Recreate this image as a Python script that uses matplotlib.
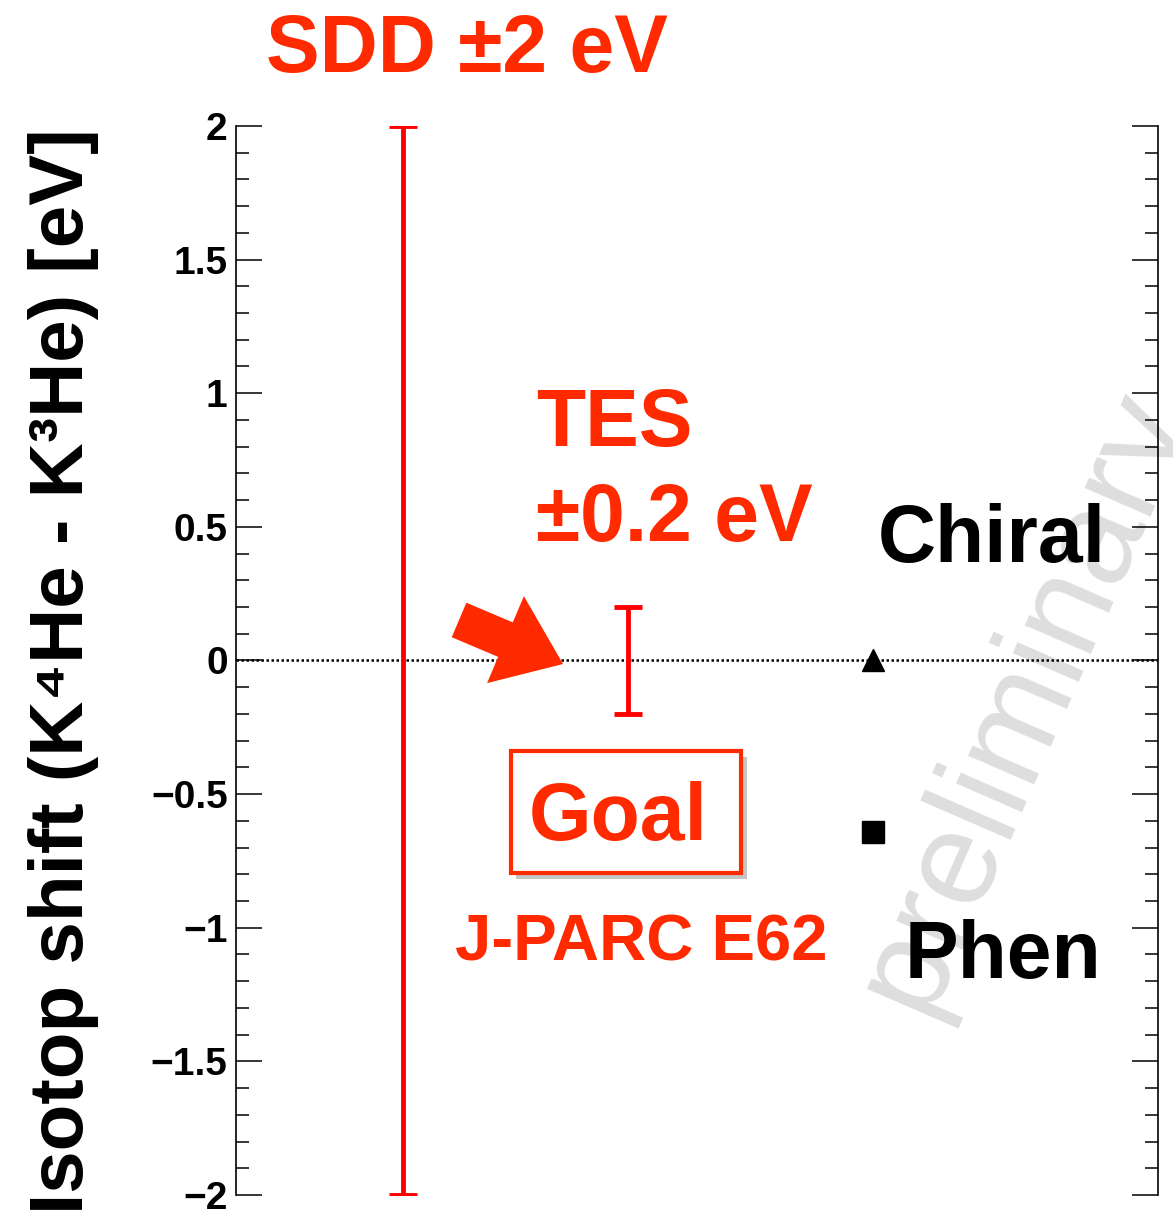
import matplotlib
matplotlib.use("Agg")
import matplotlib.pyplot as plt
import matplotlib.patheffects as pe
from matplotlib.patches import Rectangle
from matplotlib.ticker import MultipleLocator

# measurements (eV)
exp_names = ['SDD', 'TES']
exp_values = [0.0, 0.0]
exp_errors = [2.0, 0.2]

theory_names = ['Chiral', 'Phen']
theory_values = [0.0, -0.64]
theory_markers = ['^', 's']

y_ticks = [-2, -1.5, -1, -0.5, 0, 0.5, 1, 1.5, 2]

RED = '#ff0000'
ORANGE = '#ff2a00'
FONT = ['Liberation Sans', 'DejaVu Sans']

plt.rcParams['font.family'] = FONT
plt.rcParams['font.weight'] = 'bold'

fig = plt.figure(figsize=(11.73, 12.10), dpi=100)
ax = fig.add_axes([0.2012, 0.0124, 0.786, 0.8835])

x_exp = [1.81, 4.25]
x_theory = [6.91, 6.91]

ax.axhline(0, color='black', lw=1.8, ls=(0, (1, 1)), zorder=1)

ax.errorbar(x_exp, exp_values, yerr=exp_errors, fmt='none', ecolor=RED,
            elinewidth=3.5, capsize=10, capthick=3.5, zorder=3)

for xv, yv, m in zip(x_theory, theory_values, theory_markers):
    ax.plot(xv, yv, marker=m, color='black', markersize=16, ls='none', zorder=4)

ax.set_xlim(0, 10)
ax.set_ylim(-2, 2)
ax.set_yticks(y_ticks)
ax.set_yticklabels([('%g' % t).replace('-', '\u2212') for t in y_ticks])
ax.yaxis.set_minor_locator(MultipleLocator(0.1))
ax.set_xticks([])
ax.spines['top'].set_visible(False)
ax.spines['bottom'].set_visible(False)
ax.spines['left'].set_linewidth(1.2)
ax.spines['right'].set_linewidth(1.2)
ax.tick_params(axis='y', which='both', direction='in', left=True, right=True,
               width=1.1, labelsize=28, pad=6)
ax.tick_params(axis='y', which='major', length=19)
ax.tick_params(axis='y', which='minor', length=9.5)
for lab in ax.get_yticklabels():
    lab.set_fontweight('bold')

# y label, ROOT style aligned to the top of the axis
fig.text(0.0708, 0.894, 'Isotop shift (K\u2074He - K\u00b3He) [eV]', rotation=90,
         rotation_mode='anchor', ha='right', va='baseline', fontsize=55,
         fontweight='bold', family=FONT)

# watermark
ax.text(0.855, 0.462, 'preliminary', transform=ax.transAxes, rotation=66.5,
        ha='center', va='center', fontsize=97, fontweight='normal',
        color='#dedede', zorder=0, clip_on=False)

# labels
ax.text(0.2505, 1.0505, 'SDD \u00b12 eV', transform=ax.transAxes, ha='center',
        va='baseline', fontsize=58, color=ORANGE, clip_on=False)
ax.text(0.325, 0.7010, 'TES', transform=ax.transAxes, ha='left',
        va='baseline', fontsize=58, color=ORANGE)
ax.text(0.325, 0.6122, '\u00b10.2 eV', transform=ax.transAxes, ha='left',
        va='baseline', fontsize=58, color=ORANGE)
ax.text(0.6963, 0.5921, 'Chiral', transform=ax.transAxes, ha='left',
        va='baseline', fontsize=58, color='black')
ax.text(0.7256, 0.2030, 'Phen', transform=ax.transAxes, ha='left',
        va='baseline', fontsize=58, color='black')
ax.text(0.2375, 0.2189, 'J-PARC E62', transform=ax.transAxes, ha='left',
        va='baseline', fontsize=47, color=ORANGE)

# Goal box with shadow
box = Rectangle((0.298, 0.301), 0.250, 0.114, transform=ax.transAxes,
                facecolor='white', edgecolor=ORANGE, lw=3, zorder=5)
box.set_path_effects([pe.SimplePatchShadow(offset=(4, -4), shadow_rgbFace='gray',
                                           alpha=0.45), pe.Normal()])
ax.add_patch(box)
ax.text(0.415, 0.3321, 'Goal', transform=ax.transAxes, ha='center',
        va='baseline', fontsize=58, color=ORANGE, zorder=6)

# fat arrow pointing at zero
ax.annotate('', xy=(0.3547, 0.4967), xytext=(0.2419, 0.5379),
            xycoords='axes fraction', textcoords='axes fraction',
            arrowprops=dict(arrowstyle='simple,head_length=45,head_width=68,tail_width=27',
                            mutation_scale=1, color=ORANGE, lw=0,
                            shrinkA=0, shrinkB=0), zorder=5)

fig.savefig('out.png', dpi=100)
